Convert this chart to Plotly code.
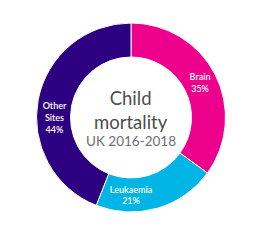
import plotly.graph_objects as go

labels = ["Brain", "Leukaemia", "Other Sites"]
values = [35, 21, 44]
texts = ["Brain<br>35%", "Leukaemia<br>21%", "Other<br>Sites<br>44%"]
colors = ["#EC008C", "#00B4E6", "#2D0082"]

fig = go.Figure(go.Pie(
    labels=labels, values=values, text=texts, textinfo="text",
    hole=0.64, sort=False, direction="clockwise", rotation=0,
    marker=dict(colors=colors, line=dict(color="white", width=1)),
    textposition="inside", insidetextorientation="horizontal",
    textfont=dict(color="white", size=9, family="Lato", weight=600),
    showlegend=False, hoverinfo="label+percent",
))

fig.add_annotation(x=0.5, y=0.5, xref="paper", yref="paper",
                   text="Child<br>mortality", showarrow=False, yshift=8, borderpad=0,
                   font=dict(size=18.5, color="#4d4d4d", family="Lato", weight=400))
fig.add_annotation(x=0.5, y=0.5, xref="paper", yref="paper",
                   text="UK 2016-2018", showarrow=False, yshift=-23, borderpad=0,
                   font=dict(size=13.5, color="#6e6e6e", family="Lato", weight=400))

fig.update_layout(width=258, height=241, margin=dict(l=35, r=31, t=23, b=29),
                  paper_bgcolor="white", plot_bgcolor="white")
fig.write_html("out.html")
